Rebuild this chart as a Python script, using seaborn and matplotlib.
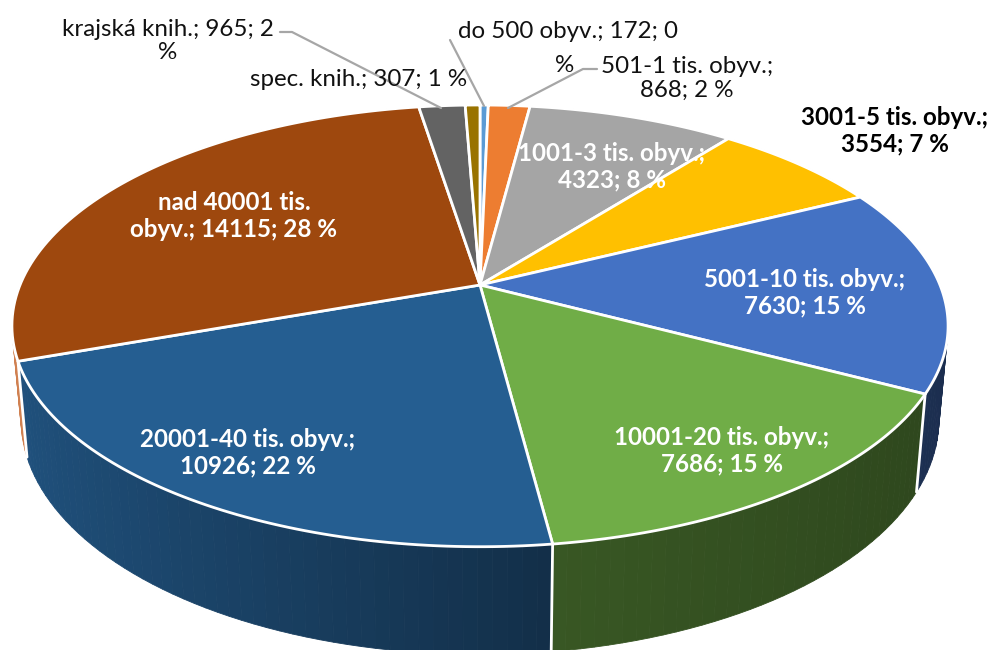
import numpy as np
import matplotlib
matplotlib.use("Agg")
import matplotlib.pyplot as plt
import seaborn as sns

categories = ["do 500 obyv.", "501-1 tis. obyv.", "1001-3 tis. obyv.", "3001-5 tis. obyv.",
              "5001-10 tis. obyv.", "10001-20 tis. obyv.", "20001-40 tis. obyv.",
              "nad 40001 tis. obyv.", "krajská knih.", "spec. knih."]
values = [172, 868, 4323, 3554, 7630, 7686, 10926, 14115, 965, 307]
colors = ["#5B9BD5", "#ED7D31", "#A5A5A5", "#FFC000", "#4472C4", "#70AD47",
          "#255E91", "#9E480E", "#636363", "#997300"]
label_texts = ["do 500 obyv.; 172; 0", "%", "501-1 tis. obyv.;\n868; 2 %", "1001-3 tis. obyv.;\n4323; 8 %",
               "3001-5 tis. obyv.;\n3554; 7 %", "5001-10 tis. obyv.;\n7630; 15 %",
               "10001-20 tis. obyv.;\n7686; 15 %", "20001-40 tis. obyv.;\n10926; 22 %",
               "nad 40001 tis.\nobyv.; 14115; 28 %", "krajská knih.; 965; 2\n%", "spec. knih.; 307; 1 %"]
label_pos = [(568, 31), (565, 66), (687, 78), (612, 167), (895, 131), (805, 293), (722, 451), (248, 453),
             (234, 216), (168, 41), (359, 79)]
label_style = ["dark", "dark", "dark", "white", "boldblack", "white", "white", "white", "white", "dark", "dark"]
leaders = [[(450, 40), (484, 106)], [(597, 69), (583, 69), (508, 108)], [(280, 32), (292, 32), (441, 108)]]

sns.set_theme(style="white", palette=sns.color_palette(colors))
plt.rcParams['font.family'] = ['Lato', 'DejaVu Sans']

CX, CY, A, B, K = 480.0, 285.0, 460.0, 213.3, 0.185
A2, CY2, B2 = 451.0, 376.0, 227.0

def rim(theta, a, cy, b):
    u, v = np.sin(theta), np.cos(theta)
    w = 1 + K * v
    return CX + a * u / w, cy - b * v / w

fig, ax = plt.subplots(figsize=(9.93, 6.5), dpi=100)
fig.subplots_adjust(0, 0, 1, 1)
ax.set_xlim(0, 993)
ax.set_ylim(650, 0)
ax.axis("off")

edges = 2 * np.pi * np.cumsum([0] + values) / sum(values)

def shade(col, theta):
    rgb = np.array(matplotlib.colors.to_rgb(col))
    x = np.sin(theta)
    # darker towards the front-right, lighter towards the left
    f = np.interp(x, [-1, 0.13, 0.15, 1.0], [0.88, 0.50, 0.50, 0.40])
    return tuple(rgb * f)

strips = []
for i, col in enumerate(colors):
    n = max(2, int((edges[i + 1] - edges[i]) / np.radians(1.5)))
    th = np.linspace(edges[i], edges[i + 1], n + 1)
    for a0, a1 in zip(th[:-1], th[1:]):
        strips.append((np.cos((a0 + a1) / 2), a0, a1, col, i))
strips.sort(key=lambda s: -s[0])
for _, a0, a1, col, i in strips:
    x0, y0 = rim(np.array([a0, a1]), A, CY, B)
    x1, y1 = rim(np.array([a1, a0]), A2, CY2, B2)
    c = "#D08050" if i == 7 else shade(col, (a0 + a1) / 2)
    ax.fill(np.r_[x0, x1], np.r_[y0, y1], color=c, lw=0.6, zorder=2)

for e in edges:
    if np.cos(e) < 0.46:
        x0, y0 = rim(e, A, CY, B)
        x1, y1 = rim(e, A2, CY2, B2)
        ax.plot([x0, x1], [y0, y1], color="white", lw=2.0, zorder=3)

for i, col in enumerate(colors):
    th = np.linspace(edges[i], edges[i + 1], 80)
    x, y = rim(th, A, CY, B)
    ax.fill(np.r_[CX, x], np.r_[CY, y], facecolor=col, edgecolor="white", lw=2.0,
            joinstyle="round", zorder=4)

for pts in leaders:
    ax.plot(*zip(*pts), color="#A6A6A6", lw=1.6, zorder=5)

for txt, (x, y), st in zip(label_texts, label_pos, label_style):
    ax.text(x, y, txt, ha="center", va="center", fontsize=17.4, linespacing=1.17, zorder=6,
            color="white" if st == "white" else ("black" if st == "boldblack" else "#111111"),
            fontweight="normal" if st == "dark" else "bold")

fig.savefig("out.png", dpi=100)
